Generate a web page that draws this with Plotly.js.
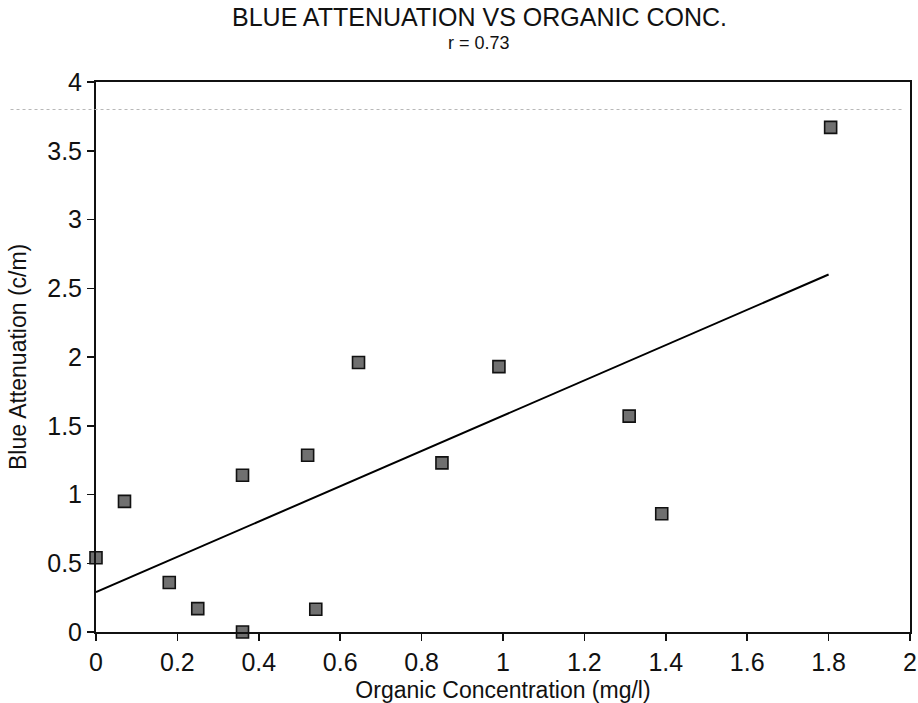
<!DOCTYPE html>
<html>
<head>
<meta charset="utf-8">
<script src="https://cdn.plot.ly/plotly-3.0.1.min.js"></script>
<style>
  html, body { margin: 0; padding: 0; background: #ffffff; }
  #chart { width: 918px; height: 703px; }
</style>
</head>
<body>
<div id="chart"></div>
<script>
// Data
const organicConc = [0.0, 0.07, 0.18, 0.25, 0.36, 0.36, 0.52, 0.54, 0.645, 0.85, 0.99, 1.31, 1.39, 1.805];
const blueAtten   = [0.54, 0.95, 0.36, 0.17, 0.0, 1.14, 1.285, 0.165, 1.96, 1.23, 1.93, 1.57, 0.86, 3.67];

// Regression line end points
const fitX = [0.0, 1.8];
const fitY = [0.29, 2.6];

const xTicks = [0, 0.2, 0.4, 0.6, 0.8, 1, 1.2, 1.4, 1.6, 1.8, 2];
const yTicks = [0, 0.5, 1, 1.5, 2, 2.5, 3, 3.5, 4];

const titleMain = 'BLUE ATTENUATION VS ORGANIC CONC.';
const titleSub = 'r = 0.73';
const xTitle = 'Organic Concentration (mg/l)';
const yTitle = 'Blue Attenuation (c/m)';

const FONT = 'Liberation Sans, Arial, Helvetica, sans-serif';

const traces = [
  {
    x: fitX, y: fitY,
    type: 'scatter', mode: 'lines',
    line: { color: '#000000', width: 2 },
    hoverinfo: 'skip', showlegend: false
  },
  {
    x: organicConc, y: blueAtten,
    type: 'scatter', mode: 'markers',
    marker: { symbol: 'square', size: 12, color: '#707070', line: { color: '#111111', width: 1.6 } },
    cliponaxis: false,
    showlegend: false
  }
];

const plotW = 918 - 96 - 8;
const plotH = 703 - 82 - 71;

const layout = {
  width: 918, height: 703,
  paper_bgcolor: '#ffffff', plot_bgcolor: '#ffffff',
  margin: { l: 96, r: 8, t: 82, b: 71 },
  font: { family: FONT, color: '#111111' },
  xaxis: {
    range: [0, 2], tickvals: xTicks,
    ticks: 'outside', ticklen: 7, tickwidth: 1.5, tickcolor: '#111111',
    ticklabeloverflow: 'allow',
    showline: true, linecolor: '#111111', linewidth: 2, mirror: true,
    showgrid: false, zeroline: false,
    tickfont: { family: FONT, size: 25, color: '#111111' },
    title: { text: xTitle, font: { family: FONT, size: 23, color: '#111111' }, standoff: 8 }
  },
  yaxis: {
    range: [0, 4], tickvals: yTicks,
    ticks: 'outside', ticklen: 7, tickwidth: 1.5, tickcolor: '#111111',
    showline: true, linecolor: '#111111', linewidth: 2, mirror: true,
    showgrid: false, zeroline: false,
    tickfont: { family: FONT, size: 25, color: '#111111' }
  },
  annotations: [
    {
      text: titleMain, xref: 'paper', yref: 'paper',
      x: 0.471, y: 1 + (82 - 17) / plotH, xanchor: 'center', yanchor: 'middle',
      showarrow: false, borderpad: 0, font: { family: FONT, size: 25, color: '#111111' }
    },
    {
      text: titleSub, xref: 'paper', yref: 'paper',
      x: 0.471, y: 1 + (82 - 43) / plotH, xanchor: 'center', yanchor: 'middle',
      showarrow: false, borderpad: 0, font: { family: FONT, size: 18, color: '#111111' }
    },
    {
      text: yTitle, xref: 'paper', yref: 'paper', textangle: -90,
      x: (18 - 96) / plotW, y: 0.5, xanchor: 'center', yanchor: 'middle',
      showarrow: false, font: { family: FONT, size: 23, color: '#111111' }
    }
  ],
  shapes: [
    {
      type: 'line', xref: 'paper', yref: 'y',
      x0: -0.105, x1: 0.99, y0: 3.8, y1: 3.8,
      line: { color: '#b8b8b8', width: 1, dash: 'dot' }
    }
  ]
};

Plotly.newPlot('chart', traces, layout, { displayModeBar: false, staticPlot: true });
</script>
</body>
</html>
